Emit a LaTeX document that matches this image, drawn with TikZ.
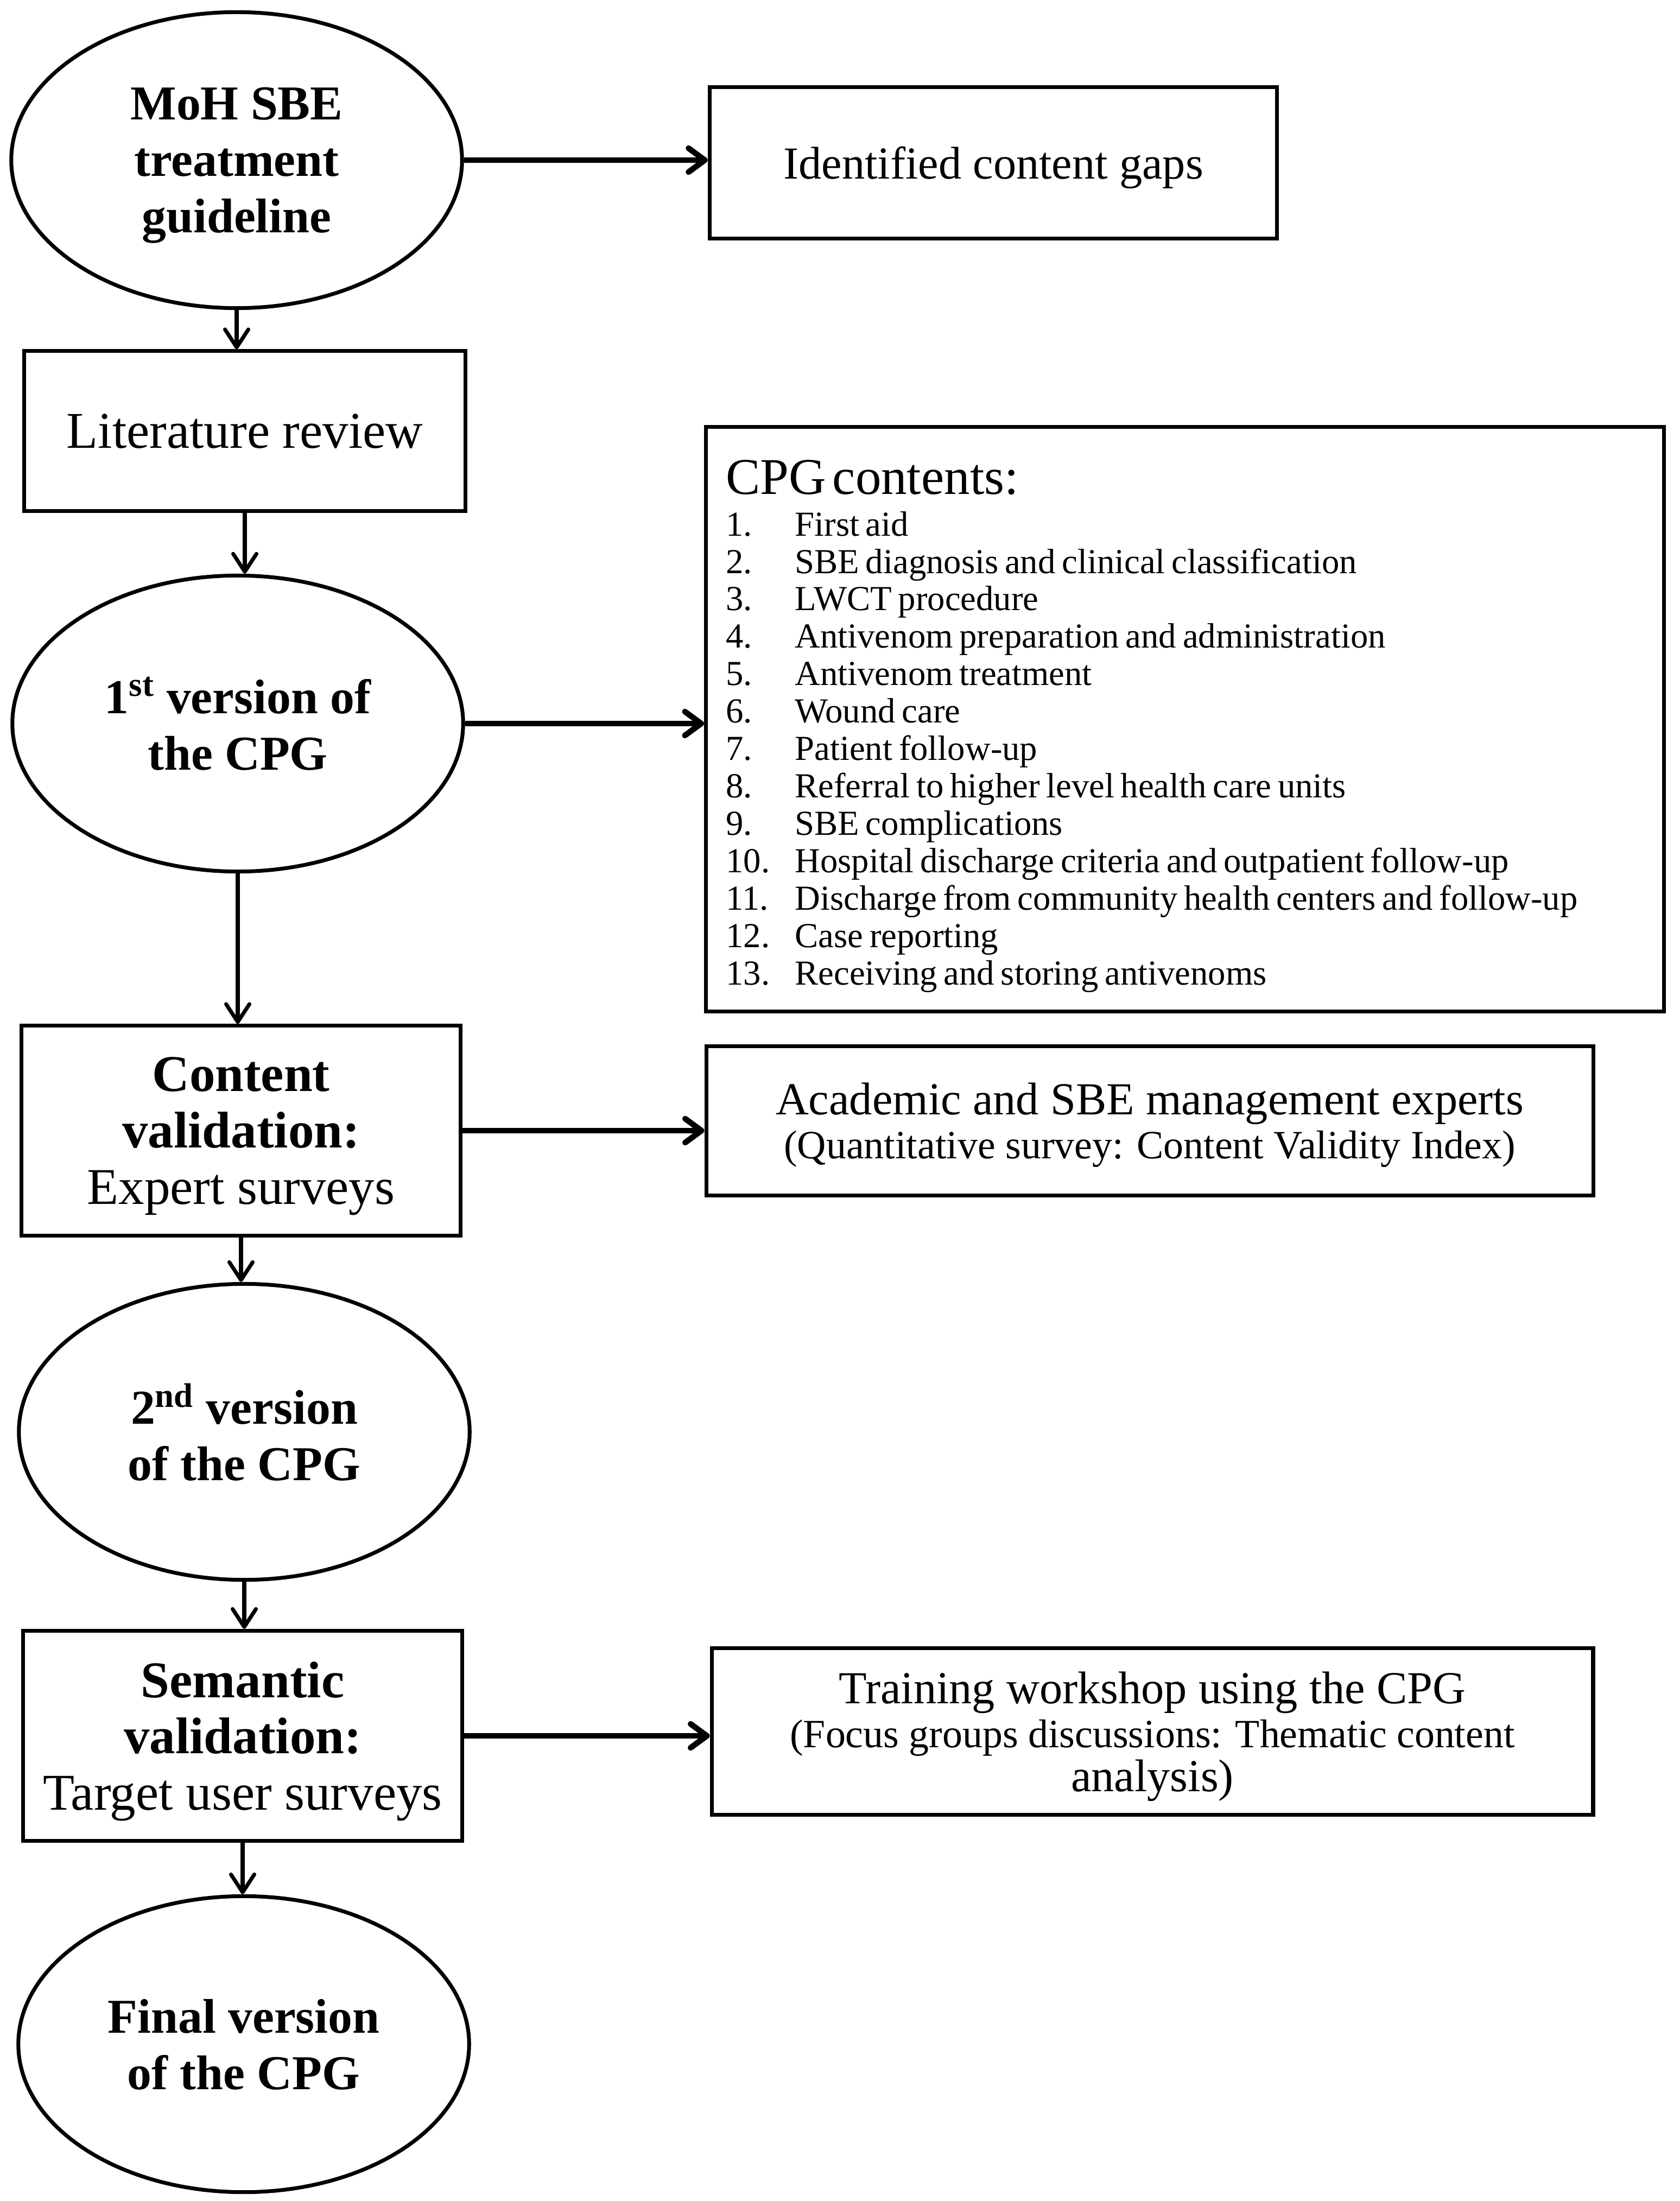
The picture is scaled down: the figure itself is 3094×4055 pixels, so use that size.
\documentclass[tikz,border=0pt]{standalone}
\usepackage{fontspec}
\setmainfont{Liberation Serif}
\usetikzlibrary{shapes.geometric,arrows.meta}
\begin{document}
\begin{tikzpicture}[x=0.01cm,y=-0.01cm,
  oval/.style={ellipse,draw,line width=2pt,inner sep=0pt,minimum width=8.3cm,minimum height=5.45cm,align=center,text depth=0pt,font=\bfseries\fontsize{25.5}{29.5}\selectfont},
  frame/.style={draw,line width=2pt,inner sep=0pt},
  box/.style={frame,align=center,text depth=0pt,font=\fontsize{24}{29.5}\selectfont},
  stepbox/.style={box,font=\fontsize{27}{29.5}\selectfont},
  arr/.style={line width=2pt,-{Straight Barb[length=0.33cm,width=0.43cm,round]}},
  harr/.style={line width=3pt,-{Straight Barb[length=0.3cm,width=0.44cm,round]}}]
\useasboundingbox (0,0) rectangle (3094,4055);
\node[oval] (moh) at (436,295) {MoH SBE\\treatment\\guideline};
\node[box,minimum width=10.45cm,minimum height=2.78cm] (gaps) at (1830,300) {Identified content gaps};
\node[stepbox,minimum width=8.12cm,minimum height=2.94cm] (lit) at (451,794) {Literature review};
\node[oval] (first) at (438,1333) {1\textsuperscript{st} version of\\the CPG};
\node[frame,minimum width=17.64cm,minimum height=10.76cm,text width=16.9cm,align=left] (cpg) at (2183,1325)
  {\fontsize{18.4}{19.6}\selectfont
  \begin{tabular}[t]{@{}p{1.27cm}@{}l@{}}
  \multicolumn{2}{@{}l@{}}{\rule{0pt}{27pt}\fontsize{27}{29}\selectfont CPG contents:}\\[2.3pt]
  1. & First aid\\
  2. & SBE diagnosis and clinical classification\\
  3. & LWCT procedure\\
  4. & Antivenom preparation and administration\\
  5. & Antivenom treatment\\
  6. & Wound care\\
  7. & Patient follow-up\\
  8. & Referral to higher level health care units\\
  9. & SBE complications\\
  10. & Hospital discharge criteria and outpatient follow-up\\
  11. & Discharge from community health centers and follow-up\\
  12. & Case reporting\\
  13. & Receiving and storing antivenoms
  \end{tabular}};
\node[stepbox,minimum width=8.09cm,minimum height=3.86cm] (content) at (444,2083) {\textbf{Content}\\\textbf{validation:}\\Expert surveys};
\node[box,minimum width=16.33cm,minimum height=2.74cm,font=\fontsize{24}{23}\selectfont] (experts) at (2118,2065) {Academic and SBE management experts\\\fontsize{21}{23}\selectfont(Quantitative survey: Content Validity Index)};
\node[oval] (second) at (450,2638) {2\textsuperscript{nd} version\\of the CPG};
\node[stepbox,minimum width=8.09cm,minimum height=3.87cm] (semantic) at (447,3198) {\textbf{Semantic}\\\textbf{validation:}\\Target user surveys};
\node[box,minimum width=16.23cm,minimum height=3.07cm,font=\fontsize{24}{23}\selectfont] (workshop) at (2123,3190) {Training workshop using the CPG\\\fontsize{21}{21.5}\selectfont(Focus groups discussions: Thematic content\\analysis)};
\node[oval] (final) at (449,3766) {Final version\\of the CPG};
\draw[harr] (moh.east) -- (moh.east -| gaps.west);
\draw[arr] (moh.south) -- (moh.south |- lit.north);
\draw[arr] (lit.south) -- (lit.south |- first.north);
\draw[harr] (first.east) -- (first.east -| cpg.west);
\draw[arr] (first.south) -- (first.south |- content.north);
\draw[harr] (content.east) -- (content.east -| experts.west);
\draw[arr] (content.south) -- (content.south |- second.north);
\draw[arr] (second.south) -- (second.south |- semantic.north);
\draw[harr] (semantic.east) -- (semantic.east -| workshop.west);
\draw[arr] (semantic.south) -- (semantic.south |- final.north);
\end{tikzpicture}
\end{document}
